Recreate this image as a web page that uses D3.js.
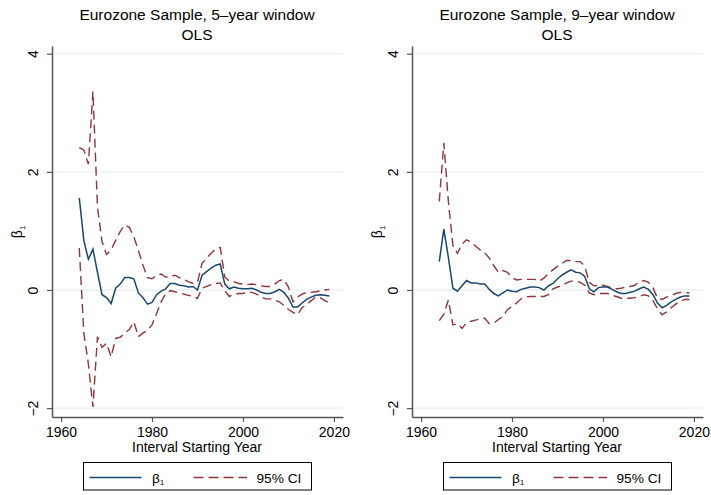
<!DOCTYPE html>
<html>
<head>
<meta charset="utf-8">
<script src="https://cdn.jsdelivr.net/npm/d3@7"></script>
<style>
  body { margin: 0; background: #fff; }
  text { font-family: "Liberation Sans", Arial, Helvetica, sans-serif; fill: #000; }
</style>
</head>
<body>
<div id="chart"></div>
<script>
const years = [1964, 1965, 1966, 1967, 1968, 1969, 1970, 1971, 1972, 1973, 1974, 1975, 1976, 1977,
  1978, 1979, 1980, 1981, 1982, 1983, 1984, 1985, 1986, 1987, 1988, 1989, 1990, 1991, 1992, 1993,
  1994, 1995, 1996, 1997, 1998, 1999, 2000, 2001, 2002, 2003, 2004, 2005, 2006, 2007, 2008, 2009,
  2010, 2011, 2012, 2013, 2014, 2015, 2016, 2017, 2018, 2019];

// 5-year window
const beta5 = [1.56, 0.84, 0.52, 0.69, 0.30, -0.08, -0.13, -0.23, 0.03, 0.10, 0.21, 0.21, 0.19, -0.05,
  -0.13, -0.24, -0.21, -0.08, -0.02, 0.02, 0.11, 0.11, 0.08, 0.07, 0.05, 0.06, 0.00, 0.25, 0.31, 0.37,
  0.42, 0.44, 0.10, 0.02, 0.05, 0.03, 0.02, 0.02, 0.03, 0.00, -0.04, -0.06, -0.06, -0.03, 0.01, -0.04,
  -0.14, -0.29, -0.29, -0.22, -0.16, -0.12, -0.09, -0.08, -0.09, -0.10];
const hi5 = [2.41, 2.37, 2.13, 3.36, 1.40, 0.82, 0.60, 0.68, 0.84, 0.99, 1.10, 1.06, 0.90, 0.67,
  0.42, 0.21, 0.19, 0.25, 0.27, 0.22, 0.22, 0.25, 0.21, 0.18, 0.14, 0.11, 0.13, 0.45, 0.54, 0.62,
  0.70, 0.72, 0.22, 0.15, 0.14, 0.11, 0.10, 0.09, 0.10, 0.09, 0.07, 0.06, 0.06, 0.10, 0.16, 0.18,
  0.05, -0.20, -0.12, -0.07, -0.04, -0.04, -0.03, -0.02, 0.00, 0.01];
const lo5 = [0.71, -0.73, -1.25, -1.98, -0.79, -0.97, -0.90, -1.13, -0.82, -0.80, -0.73, -0.67, -0.54, -0.79,
  -0.73, -0.68, -0.59, -0.40, -0.20, -0.06, -0.01, -0.03, -0.05, -0.07, -0.09, -0.11, -0.14, 0.03, 0.06, 0.09,
  0.11, 0.12, -0.01, -0.11, -0.07, -0.06, -0.06, -0.04, -0.04, -0.07, -0.12, -0.15, -0.15, -0.17, -0.20, -0.26,
  -0.33, -0.38, -0.42, -0.30, -0.25, -0.18, -0.12, -0.13, -0.18, -0.22];

// 9-year window
const beta9 = [0.48, 1.03, 0.55, 0.03, -0.02, 0.07, 0.16, 0.12, 0.12, 0.10, 0.10, 0.01, -0.06, -0.10,
  -0.05, 0.00, -0.02, -0.03, 0.01, 0.03, 0.05, 0.05, 0.04, 0.00, 0.07, 0.11, 0.19, 0.25, 0.30, 0.34,
  0.30, 0.29, 0.23, 0.02, -0.03, 0.04, 0.05, 0.05, 0.01, -0.03, -0.06, -0.06, -0.04, -0.02, 0.02, 0.05,
  0.01, -0.08, -0.22, -0.30, -0.26, -0.20, -0.16, -0.12, -0.10, -0.10];
const hi9 = [1.50, 2.49, 1.50, 0.75, 0.62, 0.78, 0.85, 0.81, 0.74, 0.68, 0.63, 0.54, 0.41, 0.30,
  0.33, 0.30, 0.21, 0.17, 0.18, 0.18, 0.18, 0.18, 0.15, 0.20, 0.28, 0.34, 0.40, 0.45, 0.50, 0.50,
  0.48, 0.48, 0.40, 0.13, 0.07, 0.08, 0.08, 0.06, 0.03, 0.02, 0.03, 0.05, 0.06, 0.08, 0.14, 0.16,
  0.13, 0.04, -0.14, -0.16, -0.12, -0.10, -0.06, -0.04, -0.04, -0.05];
const lo9 = [-0.52, -0.41, -0.17, -0.59, -0.57, -0.65, -0.55, -0.53, -0.51, -0.49, -0.48, -0.57, -0.56, -0.50,
  -0.45, -0.33, -0.28, -0.22, -0.15, -0.12, -0.11, -0.11, -0.11, -0.11, -0.08, 0.02, 0.05, 0.07, 0.12, 0.15,
  0.15, 0.13, 0.08, -0.05, -0.08, -0.06, -0.06, -0.06, -0.09, -0.11, -0.14, -0.14, -0.14, -0.13, -0.11, -0.08,
  -0.10, -0.18, -0.32, -0.42, -0.37, -0.30, -0.24, -0.19, -0.16, -0.16];

const xTicks = [1960, 1980, 2000, 2020];
const yTicks = [-2, 0, 2, 4];

const blue = "#1a476f", red = "#90353b", grid = "#eaf2f3", axisCol = "#555";

const svg = d3.select("#chart")
  .append("svg")
    .attr("width", 711)
    .attr("height", 495);

const x = d3.scaleLinear().domain([1958, 2022]).range([52, 343]);
const y = d3.scaleLinear().domain([-2.15, 4.13]).range([417, 46]);

function betaLabel(sel, size) {
  sel.append("tspan").text("β");
  sel.append("tspan").text("1")
    .attr("font-size", size * 0.55)
    .attr("dy", size * 0.18);
}

function drawPanel(ox, title, beta, lo, hi) {
  const g = svg.append("g").attr("transform", `translate(${ox},0)`);

  g.append("text")
    .attr("x", 197).attr("y", 20)
    .attr("text-anchor", "middle").attr("font-size", 15.5)
    .text(title);
  g.append("text")
    .attr("x", 197).attr("y", 40)
    .attr("text-anchor", "middle").attr("font-size", 15.5)
    .text("OLS");

  // gridlines
  g.append("g").selectAll("line").data(yTicks).join("line")
    .attr("x1", x.range()[0]).attr("x2", x.range()[1])
    .attr("y1", d => y(d)).attr("y2", d => y(d))
    .attr("stroke", grid).attr("stroke-width", 1.3);

  // y axis
  g.append("g")
    .attr("transform", `translate(${x.range()[0]},0)`)
    .call(d3.axisLeft(y).tickValues(yTicks).tickSize(5).tickSizeOuter(0)
      .tickFormat(d => d < 0 ? "\u2212" + Math.abs(d) : d))
    .call(a => a.select(".domain").attr("stroke", axisCol).attr("stroke-width", 1.5))
    .call(a => a.selectAll(".tick line").attr("stroke", axisCol).attr("stroke-width", 1.2))
    .call(a => a.selectAll(".tick text")
      .attr("transform", "rotate(-90)")
      .attr("x", 0).attr("y", -14.5).attr("dy", 0)
      .attr("text-anchor", "middle")
      .attr("font-size", 14)
      .attr("font-family", null));

  // x axis
  g.append("g")
    .attr("transform", `translate(0,${y.range()[0]})`)
    .call(d3.axisBottom(x).tickValues(xTicks).tickSize(5).tickSizeOuter(0).tickFormat(d3.format("d")))
    .call(a => a.select(".domain").attr("stroke", axisCol).attr("stroke-width", 1.5))
    .call(a => a.selectAll(".tick line").attr("stroke", axisCol).attr("stroke-width", 1.2))
    .call(a => a.selectAll(".tick text")
      .attr("y", 19.5).attr("dy", 0)
      .attr("font-size", 14)
      .attr("font-family", null));

  g.append("text")
    .attr("x", 197).attr("y", 452)
    .attr("text-anchor", "middle").attr("font-size", 14)
    .text("Interval Starting Year");

  g.append("text")
    .attr("transform", "translate(22,232) rotate(-90)")
    .attr("text-anchor", "middle").attr("font-size", 14)
    .call(t => betaLabel(t, 14));

  const line = d3.line()
    .x((d, i) => x(years[i]))
    .y(d => y(d));

  g.append("path").datum(hi)
    .attr("fill", "none").attr("stroke", red).attr("stroke-width", 1.4)
    .attr("stroke-dasharray", "9,5").attr("d", line);
  g.append("path").datum(lo)
    .attr("fill", "none").attr("stroke", red).attr("stroke-width", 1.4)
    .attr("stroke-dasharray", "9,5").attr("d", line);
  g.append("path").datum(beta)
    .attr("fill", "none").attr("stroke", blue).attr("stroke-width", 1.5)
    .attr("d", line);

  // legend
  const lg = g.append("g");
  lg.append("rect")
    .attr("x", 83.5).attr("y", 462.5).attr("width", 228).attr("height", 27.5)
    .attr("fill", "#fff").attr("stroke", "#000").attr("stroke-width", 1);
  lg.append("line")
    .attr("x1", 89.5).attr("x2", 141.5).attr("y1", 477.5).attr("y2", 477.5)
    .attr("stroke", blue).attr("stroke-width", 1.5);
  lg.append("text")
    .attr("x", 152).attr("y", 482.5).attr("font-size", 13.7)
    .call(t => betaLabel(t, 13.7));
  lg.append("line")
    .attr("x1", 193.5).attr("x2", 247).attr("y1", 477.5).attr("y2", 477.5)
    .attr("stroke", red).attr("stroke-width", 1.4).attr("stroke-dasharray", "10,5");
  lg.append("text")
    .attr("x", 256.5).attr("y", 482.5).attr("font-size", 13.7)
    .text("95% CI");
}

drawPanel(0, "Eurozone Sample, 5\u2013year window", beta5, lo5, hi5);
drawPanel(360, "Eurozone Sample, 9\u2013year window", beta9, lo9, hi9);
</script>
</body>
</html>
